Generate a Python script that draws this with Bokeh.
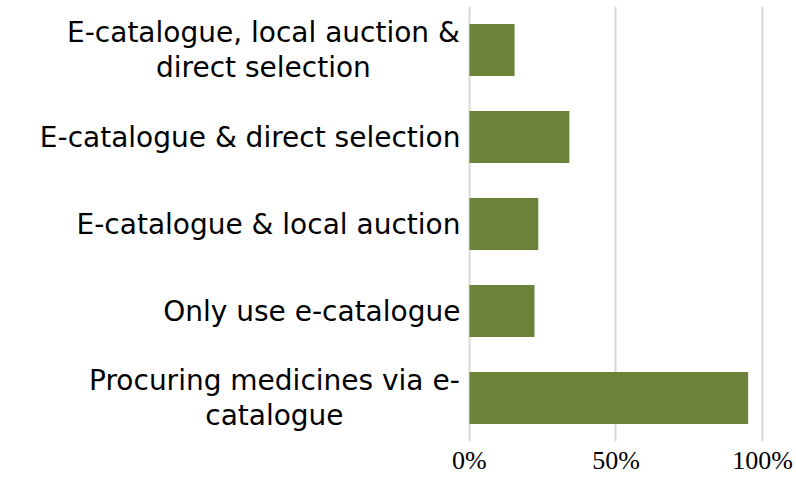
from bokeh.plotting import figure
from bokeh.models import Range1d, FactorRange, ColumnDataSource, FixedTicker, LabelSet
from bokeh.core.properties import value
from bokeh.embed import file_html
from bokeh.resources import INLINE

# data (bottom to top)
categories = [
    "Procuring medicines via e-\ncatalogue",
    "Only use e-catalogue",
    "E-catalogue & local auction",
    "E-catalogue & direct selection",
    "E-catalogue, local auction &\ndirect selection",
]
shares = [95.1, 22.2, 23.5, 34.1, 15.4]
tick_values = [0, 50, 100]
tick_labels = {0: "0%", 50: "50%", 100: "100%"}

# label styling: multi-line labels are centred line by line, single-line ones right-aligned
label_align = ["center", "right", "right", "right", "center"]
label_offset = [-195, -9, -9, -9, -206]
line_spacing = 35

src = ColumnDataSource(dict(cat=categories, val=shares))

# one text entry per label line
l_cat, l_text, l_align, l_xoff, l_yoff = [], [], [], [], []
for cat, al, xo in zip(categories, label_align, label_offset):
    lines = cat.split("\n")
    n = len(lines)
    for i, ln in enumerate(lines):
        l_cat.append(cat)
        l_text.append(ln)
        l_align.append(al)
        l_xoff.append(xo)
        l_yoff.append(((n - 1) / 2 - i) * line_spacing)
lsrc = ColumnDataSource(dict(cat=l_cat, text=l_text, zero=[0] * len(l_cat),
                             align=l_align, xoff=l_xoff, yoff=l_yoff))

# the left part of the x range holds the category labels
p = figure(width=796, height=477, output_backend="svg", toolbar_location=None,
           y_range=FactorRange(*categories, range_padding=0),
           x_range=Range1d(-160, 111.6))
p.min_border_left = 0
p.min_border_right = 0
p.min_border_top = 6
p.min_border_bottom = 0
p.outline_line_color = None
p.background_fill_color = "white"
p.border_fill_color = "white"

p.hbar(y="cat", right="val", left=0, height=0.6, source=src,
       fill_color="#6b8238", line_color=None)

labels = LabelSet(x="zero", y="cat", text="text", source=lsrc,
                  x_offset="xoff", y_offset="yoff", text_align="align",
                  text_baseline="middle",
                  text_font=value("DejaVu Sans"), text_font_size=value("28px"),
                  text_color="black")
p.add_layout(labels)

# x axis
p.xaxis.ticker = FixedTicker(ticks=tick_values)
p.xaxis.major_label_overrides = tick_labels
p.xaxis.axis_line_color = None
p.xaxis.major_tick_line_color = None
p.xaxis.minor_tick_line_color = None
p.xaxis.major_tick_out = 0
p.xaxis.major_tick_in = 0
p.xaxis.major_label_text_font = "Liberation Serif"
p.xaxis.major_label_text_font_size = "26px"
p.xaxis.major_label_text_color = "black"
p.xaxis.major_label_standoff = 4

p.yaxis.visible = False

p.xgrid.grid_line_color = "#d9d9d9"
p.xgrid.grid_line_width = 2
p.ygrid.grid_line_color = None

open("out.html", "w").write(file_html(p, INLINE))
